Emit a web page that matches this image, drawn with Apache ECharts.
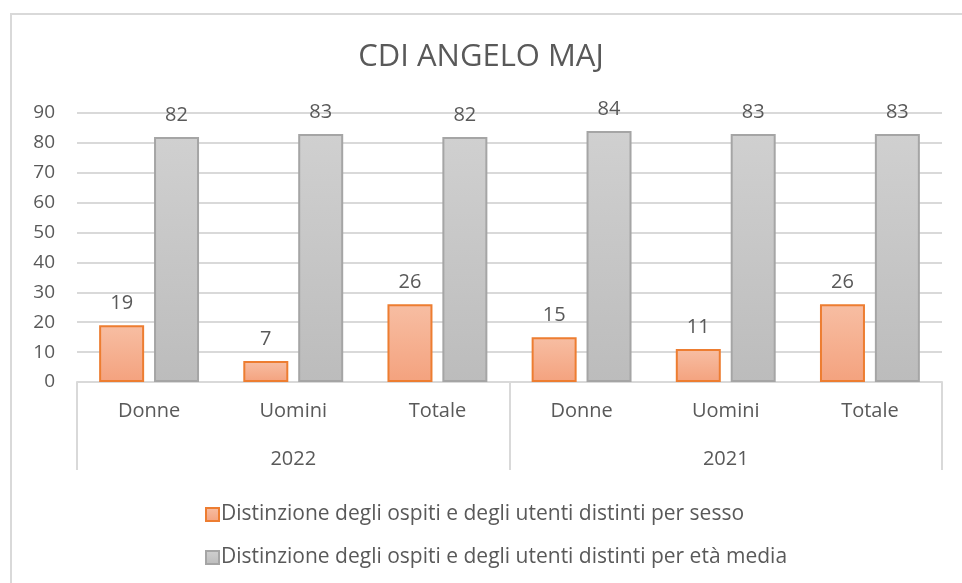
<!DOCTYPE html>
<html>
<head>
<meta charset="utf-8">
<script src="https://cdn.jsdelivr.net/npm/echarts@6/dist/echarts.min.js"></script>
<style>
  body { margin: 0; background: #fff; }
  #frame { position: absolute; left: 10px; top: 13px; width: 1000px; height: 640px; border: 2px solid #d9d9d9; box-sizing: border-box; }
  #main { position: absolute; left: 0; top: 0; width: 962px; height: 583px; }
</style>
</head>
<body>
<div id="frame"></div>
<div id="main"></div>
<script>
var categories = ['Donne', 'Uomini', 'Totale', 'Donne', 'Uomini', 'Totale'];
var years = ['2022', '2021'];
var sesso = [19, 7, 26, 15, 11, 26];
var etaMedia = [82, 83, 82, 84, 83, 83];
var yTicks = { min: 0, max: 90, interval: 10 };

var txt = '#595959';
var font = 'Open Sans';

var myChart = echarts.init(document.getElementById('main'));

function grad(top, bottom) {
    return new echarts.graphic.LinearGradient(0, 0, 0, 1, [
        { offset: 0, color: top },
        { offset: 1, color: bottom }
    ]);
}

myChart.setOption({
    textStyle: { fontFamily: font },
    animation: false,
    title: {
        text: 'CDI ANGELO MAJ',
        left: 'center',
        top: 37,
        textStyle: { fontFamily: font, fontSize: 31, fontWeight: 'normal', color: txt }
    },
    legend: {
        orient: 'vertical',
        left: 200,
        top: 499,
        itemWidth: 13,
        itemHeight: 13,
        itemGap: 22,
        icon: 'rect',
        textStyle: { fontFamily: font, fontSize: 21, lineHeight: 21, color: txt, padding: [0, 0, 0, -3] }
    },
    grid: { left: 77, right: 20, top: 113, bottom: 201 },
    xAxis: [
        {
            type: 'category',
            data: categories,
            axisLine: { lineStyle: { color: '#d9d9d9', width: 2 } },
            axisTick: { show: false },
            axisLabel: { color: txt, fontSize: 20, margin: 19, fontFamily: font }
        },
        {
            type: 'category',
            data: years,
            position: 'bottom',
            axisLine: { show: false },
            axisTick: { show: true, length: 88, lineStyle: { color: '#d9d9d9', width: 2 } },
            axisLabel: { color: txt, fontSize: 20, margin: 67, fontFamily: font }
        }
    ],
    yAxis: {
        type: 'value',
        min: yTicks.min,
        max: yTicks.max,
        interval: yTicks.interval,
        axisLine: { show: false },
        axisTick: { show: false },
        axisLabel: { color: txt, fontSize: 19, margin: 22, fontFamily: font },
        splitLine: { lineStyle: { color: '#d9d9d9', width: 2 } }
    },
    series: [
        {
            name: 'Distinzione degli ospiti e degli utenti distinti per sesso',
            type: 'bar',
            data: sesso,
            barWidth: 45,
            barGap: '22%',
            itemStyle: { color: grad('#f7bea3', '#f4a27e'), borderColor: '#ed7d31', borderWidth: 2 },
            label: { show: true, position: 'top', distance: 12, color: txt, fontSize: 20, fontFamily: font }
        },
        {
            name: 'Distinzione degli ospiti e degli utenti distinti per età media',
            type: 'bar',
            data: etaMedia,
            barWidth: 45,
            itemStyle: { color: grad('#d0d0d0', '#bcbcbc'), borderColor: '#a5a5a5', borderWidth: 2 },
            label: { show: true, position: 'top', distance: 12, color: txt, fontSize: 20, fontFamily: font }
        }
    ]
});
</script>
</body>
</html>
